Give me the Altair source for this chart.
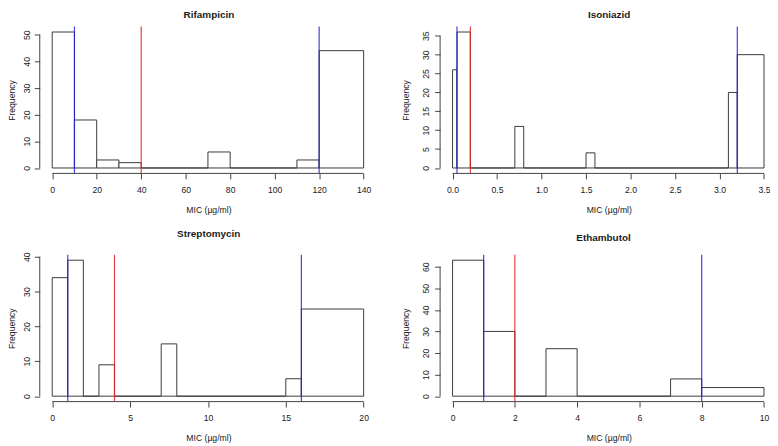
import altair as alt
import pandas as pd

FONT = "Liberation Sans"
BLUE = "#1f1fe0"
RED = "#e81e1e"
BAR = "#3a3a3a"
AX = "#444444"
TXT = "#1a1a1a"

# ---------------- data ----------------
names = ["Rifampicin", "Isoniazid", "Streptomycin", "Ethambutol"]

rif_lo = [0, 10, 20, 30, 40, 70, 80, 110, 120]
rif_hi = [10, 20, 30, 40, 70, 80, 110, 120, 140]
rif_n = [51, 18, 3, 2, 0, 6, 0, 3, 44]
rif_lines = [10, 40, 120]
rif_xticks = [0, 20, 40, 60, 80, 100, 120, 140]
rif_yticks = [0, 10, 20, 30, 40, 50]

iso_lo = [0, 0.05, 0.2, 0.7, 0.8, 1.5, 1.6, 3.1, 3.2]
iso_hi = [0.05, 0.2, 0.7, 0.8, 1.5, 1.6, 3.1, 3.2, 3.5]
iso_n = [26, 36, 0, 11, 0, 4, 0, 20, 30]
iso_lines = [0.05, 0.2, 3.2]
iso_xticks = [0.0, 0.5, 1.0, 1.5, 2.0, 2.5, 3.0, 3.5]
iso_yticks = [0, 5, 10, 15, 20, 25, 30, 35]

str_lo = [0, 1, 2, 3, 4, 7, 8, 15, 16]
str_hi = [1, 2, 3, 4, 7, 8, 15, 16, 20]
str_n = [34, 39, 0, 9, 0, 15, 0, 5, 25]
str_lines = [1, 4, 16]
str_xticks = [0, 5, 10, 15, 20]
str_yticks = [0, 10, 20, 30, 40]

eth_lo = [0, 1, 2, 3, 4, 7, 8]
eth_hi = [1, 2, 3, 4, 7, 8, 10]
eth_n = [63, 30, 0, 22, 0, 8, 4]
eth_lines = [1, 2, 8]
eth_xticks = [0, 2, 4, 6, 8, 10]
eth_yticks = [0, 10, 20, 30, 40, 50, 60]

line_kinds = ["blue", "red", "blue"]

# ---------------- layout ----------------
H = 148
W_FULL = 339


def panel(name, lo, hi, n, lines, xticks, yticks, width, xfmt,
          ylabpad, ytitlex, title_x, title_y, bound=False):
    r = hi[-1] - lo[0]
    xmin = lo[0] - 0.04 * r
    pxu = W_FULL / (1.08 * r)
    xmax = xmin + width / pxu
    ymax = max(n)
    xs = alt.Scale(domain=[xmin, xmax], nice=False, zero=False)
    ys = alt.Scale(domain=[-0.04 * ymax, 1.04 * ymax], nice=False, zero=False)

    xaxis = alt.Axis(
        values=xticks, format=xfmt, tickSize=5.5, tickColor=AX, tickWidth=1,
        domain=False, grid=False, labelFont=FONT, labelFontSize=8.7,
        labelColor=TXT, labelPadding=14, labelBaseline="alphabetic",
        labelFlush=False, labelOverlap=False,
        title="MIC (µg/ml)", titleFont=FONT, titleFontSize=8.7,
        titleFontWeight="normal", titleColor=TXT, titleX=170, titleY=39,
        titleBaseline="alphabetic", titleAlign="center")
    yaxis = alt.Axis(
        values=yticks, format="d", tickSize=5.5, tickColor=AX, tickWidth=1,
        domain=False, grid=False, labelFont=FONT, labelFontSize=8.7,
        labelColor=TXT, labelAngle=270, labelAlign="center",
        labelBaseline="alphabetic", labelPadding=ylabpad,
        labelFlush=False, labelOverlap=False,
        title="Frequency", titleFont=FONT, titleFontSize=8.7,
        titleFontWeight="normal", titleColor=TXT, titleAngle=270,
        titleX=ytitlex, titleY=H / 2, titleBaseline="alphabetic",
        titleAlign="center")

    df = pd.DataFrame({"lo": lo, "hi": hi, "n": n, "zero": [0] * len(n)})
    bars = alt.Chart(df).mark_rect(fill="white", stroke=BAR, strokeWidth=1).encode(
        x=alt.X("lo:Q", scale=xs, axis=xaxis),
        x2="hi",
        y=alt.Y("n:Q", scale=ys, axis=yaxis),
        y2="zero",
    )

    vdf = pd.DataFrame({"v": lines, "c": line_kinds})
    vl = alt.Chart(vdf).mark_rule(strokeWidth=1.2, opacity=0.85).encode(
        x=alt.X("v:Q", scale=xs, axis=xaxis),
        color=alt.Color("c:N", scale=alt.Scale(domain=["blue", "red"], range=[BLUE, RED]),
                        legend=None),
    )

    xl = alt.Chart(pd.DataFrame({"a": [xticks[0]], "b": [xticks[-1]]})).mark_rule(
        color=AX, strokeWidth=1).encode(
        x=alt.X("a:Q", scale=xs, axis=xaxis), x2="b", y=alt.value(H))
    yl = alt.Chart(pd.DataFrame({"a": [yticks[0]], "b": [yticks[-1]]})).mark_rule(
        color=AX, strokeWidth=1).encode(
        y=alt.Y("a:Q", scale=ys, axis=yaxis), y2="b", x=alt.value(0))

    tt = alt.Chart(pd.DataFrame({"t": [name]})).mark_text(
        font=FONT, fontSize=10, fontWeight="bold", color=TXT,
        align="center", baseline="alphabetic").encode(
        text="t:N", x=alt.value(title_x), y=alt.value(title_y))

    layers = [bars, vl, xl, yl, tt]
    if bound:
        bd = alt.Chart(pd.DataFrame({"t": [0]})).mark_rule(
            stroke="white", strokeOpacity=0, strokeWidth=1).encode(
            x=alt.value(-32), y=alt.value(-17), y2=alt.value(0))
        layers.append(bd)
    return alt.layer(*layers).properties(width=width, height=H)


p1 = panel(names[0], rif_lo, rif_hi, rif_n, rif_lines, rif_xticks, rif_yticks,
           339, "d", 4.5, -25, 170.5, -9, bound=True)
p2 = panel(names[1], iso_lo, iso_hi, iso_n, iso_lines, iso_xticks, iso_yticks,
           331, ".1f", 5.8, -32, 170.3, -9)
p3 = panel(names[2], str_lo, str_hi, str_n, str_lines, str_xticks, str_yticks,
           339, "d", 4.5, -25, 170.3, -17.5)
p4 = panel(names[3], eth_lo, eth_hi, eth_n, eth_lines, eth_xticks, eth_yticks,
           331, "d", 5.8, -32, 164.7, -13.5)

chart = alt.concat(
    p1, p2, p3, p4, columns=2,
    spacing={"row": 82, "column": 64.5}, bounds="flush",
).properties(padding=0, background="white").configure_view(stroke=None)

chart.save("out.html", embed_options={"renderer": "svg", "actions": False})
